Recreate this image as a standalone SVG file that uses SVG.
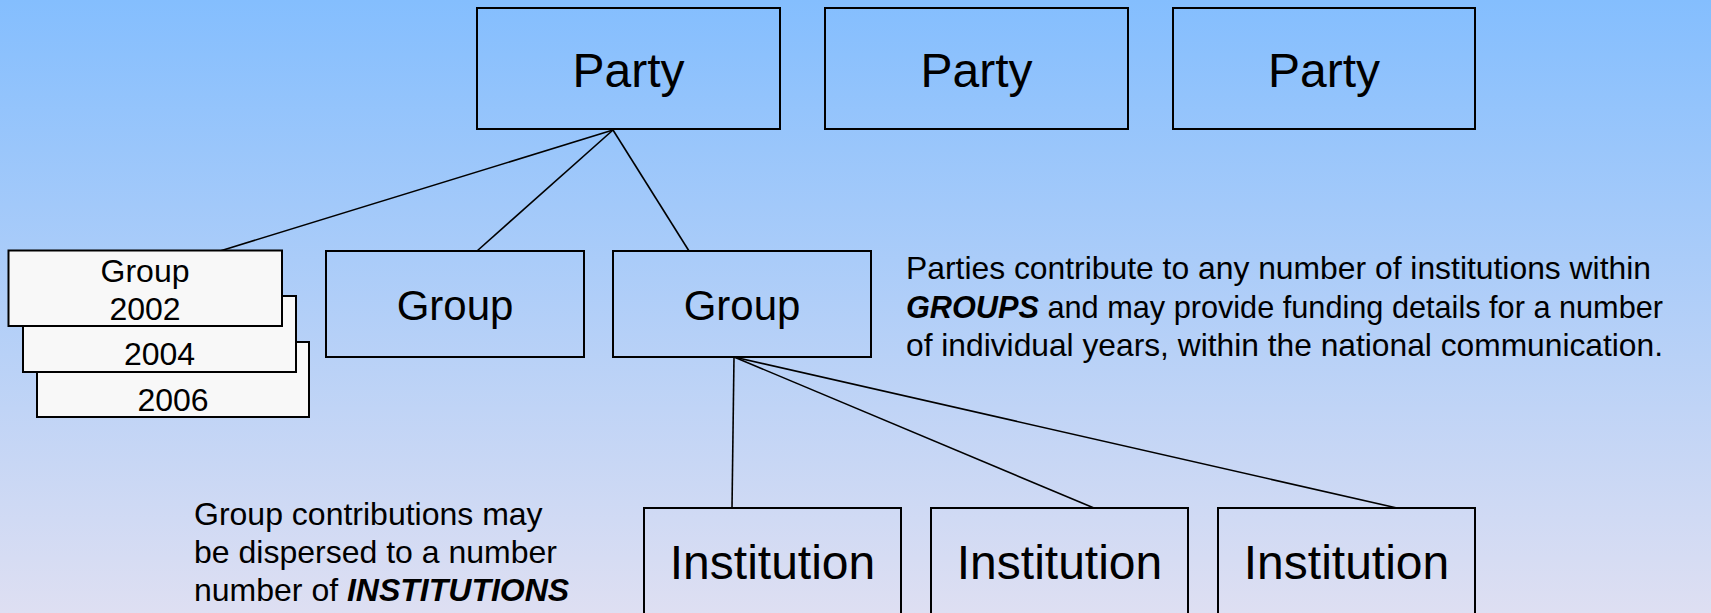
<svg xmlns="http://www.w3.org/2000/svg" width="1711" height="613" viewBox="0 0 1711 613">
  <defs>
    <linearGradient id="bg" x1="0" y1="0" x2="0" y2="1">
      <stop offset="0" stop-color="#84befe"/>
      <stop offset="1" stop-color="#dedff2"/>
    </linearGradient>
  </defs>
  <style>
    .box { fill: none; stroke: #000; stroke-width: 2; }
    .year { fill: #f8f8f8; stroke: #000; stroke-width: 2; }
    .lbl { font-family: "Liberation Sans", Arial, sans-serif; fill: #000; text-anchor: middle; }
    .para { font-family: "Liberation Sans", Arial, sans-serif; fill: #000; font-size: 32px; }
    .em { font-weight: bold; font-style: italic; }
    .conn line { stroke: #000; stroke-width: 1.6; }
  </style>
  <rect x="0" y="0" width="1711" height="613" fill="url(#bg)"/>

  <g id="connectors" class="conn">
    <line x1="613" y1="130" x2="220" y2="251"/>
    <line x1="613" y1="130" x2="477" y2="251"/>
    <line x1="613" y1="130" x2="689" y2="251"/>
    <line x1="734" y1="357" x2="732" y2="508"/>
    <line x1="734" y1="357" x2="1094" y2="508"/>
    <line x1="734" y1="357" x2="1397" y2="508"/>
  </g>

  <g id="party1">
    <rect class="box" x="477" y="8" width="303" height="121"/>
    <text class="lbl" x="628.5" y="87" font-size="48">Party</text>
  </g>
  <g id="party2">
    <rect class="box" x="825" y="8" width="303" height="121"/>
    <text class="lbl" x="976.5" y="87" font-size="48">Party</text>
  </g>
  <g id="party3">
    <rect class="box" x="1173" y="8" width="302" height="121"/>
    <text class="lbl" x="1324" y="87" font-size="48">Party</text>
  </g>

  <g id="group-years">
    <rect class="year" x="37" y="342" width="272" height="75"/>
    <text class="lbl" x="173" y="411" font-size="32">2006</text>
    <rect class="year" x="23" y="296" width="273" height="76"/>
    <text class="lbl" x="159.5" y="365" font-size="32">2004</text>
    <rect class="year" x="8.5" y="250.5" width="273.5" height="75.5"/>
    <text class="lbl" x="145" y="282" font-size="32">Group</text>
    <text class="lbl" x="145" y="320" font-size="32">2002</text>
  </g>

  <g id="group1">
    <rect class="box" x="326" y="251" width="258" height="106"/>
    <text class="lbl" x="455" y="320" font-size="42">Group</text>
  </g>
  <g id="group2">
    <rect class="box" x="613" y="251" width="258" height="106"/>
    <text class="lbl" x="742" y="320" font-size="42">Group</text>
  </g>

  <g id="institution1">
    <rect class="box" x="644" y="508" width="257" height="110"/>
    <text class="lbl" x="772.5" y="579" font-size="48">Institution</text>
  </g>
  <g id="institution2">
    <rect class="box" x="931" y="508" width="257" height="110"/>
    <text class="lbl" x="1059.5" y="579" font-size="48">Institution</text>
  </g>
  <g id="institution3">
    <rect class="box" x="1218" y="508" width="257" height="110"/>
    <text class="lbl" x="1346.5" y="579" font-size="48">Institution</text>
  </g>

  <g id="note-parties">
    <text class="para" x="906" y="279" textLength="745" lengthAdjust="spacingAndGlyphs">Parties contribute to any number of institutions within</text>
    <text class="para" x="906" y="318" textLength="757" lengthAdjust="spacingAndGlyphs"><tspan class="em">GROUPS</tspan> and may provide funding details for a number</text>
    <text class="para" x="906" y="356" textLength="757" lengthAdjust="spacingAndGlyphs">of individual years, within the national communication.</text>
  </g>

  <g id="note-groups">
    <text class="para" x="194" y="525">Group contributions may</text>
    <text class="para" x="194" y="563">be dispersed to a number</text>
    <text class="para" x="194" y="601">number of <tspan class="em">INSTITUTIONS</tspan></text>
  </g>
</svg>
